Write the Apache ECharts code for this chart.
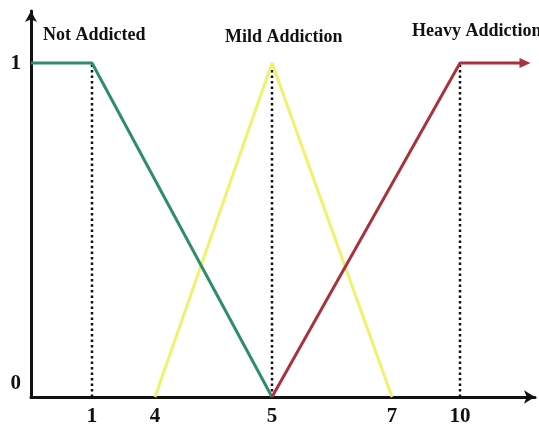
<!DOCTYPE html>
<html>
<head>
<meta charset="utf-8">
<script src="https://cdn.jsdelivr.net/npm/echarts@6/dist/echarts.min.js"></script>
<style>html,body{margin:0;padding:0;background:#fff;}#c{width:539px;height:427px;}</style>
</head>
<body>
<div id="c"></div>
<script>
// ---- data ----
const xTickValues = [1, 4, 5, 7, 10];
const xTickLabels = ['1', '4', '5', '7', '10'];
const yTickValues = [0, 1];
const yTickLabels = ['0', '1'];
const setNames = ['Not Addicted', 'Mild Addiction', 'Heavy Addiction'];
const notAddicted = [[0, 1], [1, 1], [5, 0]];
const mildAddiction = [[4, 0], [5, 1], [7, 0]];
const heavyAddiction = [[5, 0], [10, 1], [12, 1]];
const guideXs = [1, 5, 10];

// ---- drawing scale (the original axis is not drawn linearly) ----
const stopsReal = [0, 1, 4, 5, 7, 10, 12];
const stopsSlot = [0, 6.1, 12.4, 24.1, 36.1, 42.9, 49.4];
function toSlot(x) {
  for (let i = 1; i < stopsReal.length; i++) {
    if (x <= stopsReal[i]) {
      const t = (x - stopsReal[i - 1]) / (stopsReal[i] - stopsReal[i - 1]);
      return stopsSlot[i - 1] + t * (stopsSlot[i] - stopsSlot[i - 1]);
    }
  }
  return stopsSlot[stopsSlot.length - 1];
}
const mapPts = arr => arr.map(p => [toSlot(p[0]), p[1]]);
const tickSlots = xTickValues.map(toSlot);

const FONT = '"Liberation Serif", "Times New Roman", serif';
const colors = ['#2f8c6c', '#f1f16e', '#a8323e'];

const chart = echarts.init(document.getElementById('c'));

const guideSeries = guideXs.map(x => ({
  type: 'line',
  data: mapPts([[x, 0], [x, 1]]),
  symbol: 'none',
  silent: true,
  z: 1,
  lineStyle: { color: '#111', width: 2.5, type: [2.5, 3] }
}));

const heavyData = mapPts(heavyAddiction).map((p, i, a) => i === a.length - 1
  ? { value: p, symbol: 'triangle', symbolSize: [10, 11], symbolRotate: -90, symbolOffset: [0, 0] }
  : { value: p, symbol: 'none' });

const option = {
  animation: false,
  backgroundColor: '#fff',
  grid: { left: 31, right: 4, top: 11, bottom: 30 },
  xAxis: {
    type: 'value',
    min: 0,
    max: 50.4,
    splitLine: { show: false },
    axisTick: { show: false },
    axisLine: {
      lineStyle: { color: '#111', width: 3 },
      symbol: ['none', 'arrow'],
      symbolSize: [10, 11]
    },
    axisLabel: {
      customValues: tickSlots,
      formatter: v => {
        const i = tickSlots.findIndex(s => Math.abs(s - v) < 1e-6);
        return i >= 0 ? xTickLabels[i] : '';
      },
      margin: 9,
      color: '#111',
      fontFamily: FONT,
      fontWeight: 'bold',
      fontSize: 21
    }
  },
  yAxis: {
    type: 'value',
    min: 0,
    max: 1.1557,
    splitLine: { show: false },
    axisTick: { show: false },
    axisLine: {
      lineStyle: { color: '#111', width: 3 },
      symbol: ['none', 'arrow'],
      symbolSize: [9, 11]
    },
    axisLabel: {
      customValues: yTickValues,
      formatter: v => {
        const i = yTickValues.indexOf(v);
        if (i < 0) return '';
        return v === 0 ? '{z|' + yTickLabels[i] + '}' : '{o|' + yTickLabels[i] + '}';
      },
      margin: 10,
      rich: {
        z: { fontFamily: FONT, fontWeight: 'bold', fontSize: 21, color: '#111', padding: [0, 0, 26, 0] },
        o: { fontFamily: FONT, fontWeight: 'bold', fontSize: 21, color: '#111', padding: [0, 0, -2, 0] }
      }
    }
  },
  graphic: [
    { type: 'text', left: 43, top: 26, z: 10, style: { text: setNames[0], font: 'bold 18px ' + FONT, fill: '#111' } },
    { type: 'text', left: 225, top: 28, z: 10, style: { text: setNames[1], font: 'bold 18px ' + FONT, fill: '#111' } },
    { type: 'text', left: 412, top: 22, z: 10, style: { text: setNames[2], font: 'bold 18px ' + FONT, fill: '#111' } }
  ],
  series: [
    ...guideSeries,
    {
      name: setNames[0], type: 'line', data: mapPts(notAddicted), symbol: 'none', z: 3,
      lineStyle: { color: colors[0], width: 3 }
    },
    {
      name: setNames[1], type: 'line', data: mapPts(mildAddiction), symbol: 'none', z: 2,
      lineStyle: { color: colors[1], width: 3 }
    },
    {
      name: setNames[2], type: 'line', data: heavyData, z: 4,
      itemStyle: { color: colors[2] },
      lineStyle: { color: colors[2], width: 3 }
    }
  ]
};
chart.setOption(option);
</script>
</body>
</html>
